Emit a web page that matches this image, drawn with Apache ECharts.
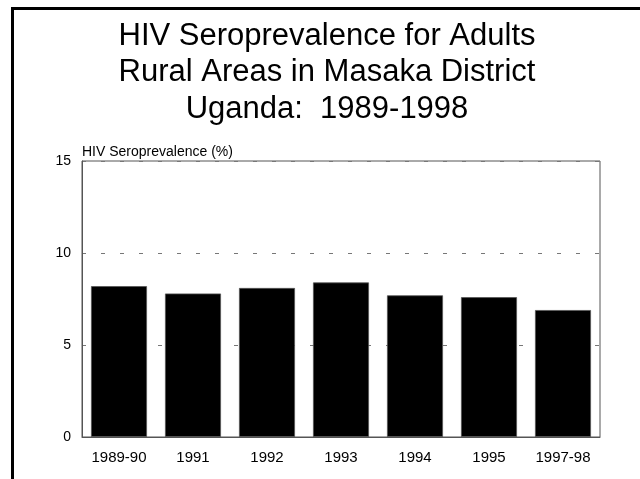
<!DOCTYPE html>
<html>
<head>
<meta charset="utf-8">
<script src="https://cdn.jsdelivr.net/npm/echarts@6/dist/echarts.min.js"></script>
<style>
  html, body { margin: 0; padding: 0; background: #fff; }
  #chart { width: 640px; height: 479px; }
</style>
</head>
<body>
<div id="chart"></div>
<script>
// data
const periods = ["1989-90", "1991", "1992", "1993", "1994", "1995", "1997-98"];
const prevalence = [8.2, 7.8, 8.1, 8.4, 7.7, 7.6, 6.9];
const yTicks = [0, 5, 10, 15];

const font = "Liberation Sans, Arial, sans-serif";
const chart = echarts.init(document.getElementById("chart"));

chart.setOption({
  animation: false,
  backgroundColor: "#fff",
  title: {
    text: "HIV Seroprevalence for Adults\nRural Areas in Masaka District\nUganda:  1989-1998",
    left: 322,
    top: 13,
    textAlign: "center",
    textStyle: {
      fontFamily: font,
      fontWeight: "normal",
      fontSize: 31,
      lineHeight: 36.5,
      color: "#000",
    },
  },
  grid: {
    left: 82,
    right: 40,
    top: 161,
    bottom: 42,
    show: true,
    borderColor: "#555",
    borderWidth: 1,
  },
  xAxis: {
    type: "category",
    data: periods,
    axisLine: { lineStyle: { color: "#555" } },
    axisTick: { show: false },
    axisLabel: { color: "#000", fontFamily: font, fontSize: 15, margin: 13 },
  },
  yAxis: {
    type: "value",
    min: yTicks[0],
    max: yTicks[yTicks.length - 1],
    interval: 5,
    name: "HIV Seroprevalence (%)",
    nameLocation: "end",
    nameGap: 2,
    nameTextStyle: { color: "#000", fontFamily: font, fontSize: 14, align: "left" },
    axisLine: { show: true, lineStyle: { color: "#555" } },
    axisTick: { show: false },
    axisLabel: { color: "#000", fontFamily: font, fontSize: 14, margin: 11 },
    splitLine: {
      show: true,
      lineStyle: { color: "#777", type: [4, 15], width: 1 },
    },
  },
  series: [
    {
      type: "bar",
      data: prevalence,
      barWidth: 56,
      itemStyle: { color: "#000", borderColor: "#555", borderWidth: 0.8 },
    },
  ],
  graphic: [
    {
      type: "polyline",
      shape: { points: [[12.5, 479], [12.5, 8.5], [640, 8.5]] },
      style: { stroke: "#000", lineWidth: 3, fill: null },
    },
  ],
});
</script>
</body>
</html>
